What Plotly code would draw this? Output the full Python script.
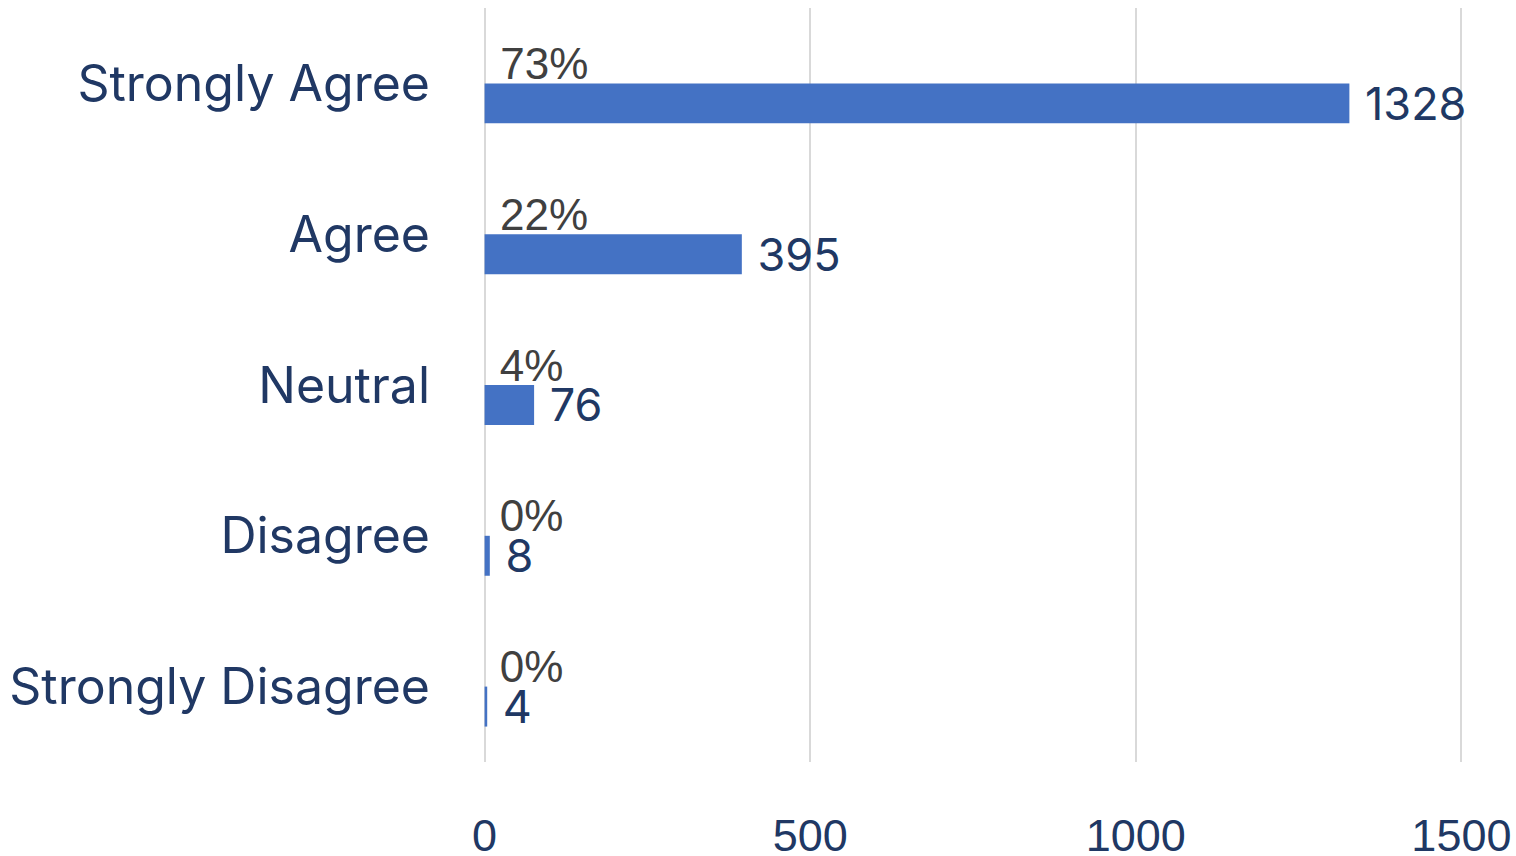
import plotly.graph_objects as go

# Survey responses, listed top to bottom
categories = ["Strongly Agree", "Agree", "Neutral", "Disagree", "Strongly Disagree"]
counts = [1328, 395, 76, 8, 4]
percents = [73, 22, 4, 0, 0]
x_ticks = [0, 500, 1000, 1500]

NAVY = "#203864"
GREY = "#404040"
BAR = "#4472C4"
PAD = "\u00a0"

fig = go.Figure()

# Share of responses: a hairline bar that only carries its label
fig.add_trace(go.Bar(
    y=categories,
    x=[p / 100 for p in percents],
    orientation="h",
    marker=dict(color="rgba(0,0,0,0)", line=dict(width=0)),
    text=[f"{PAD}{p}%" for p in percents],
    textposition="outside",
    constraintext="none",
    cliponaxis=False,
    textfont=dict(family="Liberation Sans, Arial, sans-serif", size=44, color=GREY),
    hoverinfo="skip",
))

# Response counts
fig.add_trace(go.Bar(
    y=categories,
    x=counts,
    orientation="h",
    marker=dict(color=BAR, line=dict(width=0)),
    text=[f"{PAD}{c}" for c in counts],
    textposition="outside",
    constraintext="none",
    cliponaxis=False,
    textfont=dict(family="Inter, Noto Sans, sans-serif", size=45, color=NAVY),
))

fig.update_layout(
    width=1516,
    height=856,
    margin=dict(l=482, r=52, t=8, b=94),
    paper_bgcolor="white",
    plot_bgcolor="white",
    barmode="group",
    bargap=0.47,
    bargroupgap=0,
    showlegend=False,
    xaxis=dict(
        range=[-4, 1504],
        tickvals=x_ticks,
        ticktext=[str(t) for t in x_ticks],
        showgrid=True,
        gridcolor="#D9D9D9",
        gridwidth=2,
        zeroline=False,
        showline=False,
        ticks="",
        automargin=False,
        ticklabelstandoff=43,
        tickfont=dict(family="Liberation Sans, Arial, sans-serif", size=45, color=NAVY),
    ),
    yaxis=dict(
        autorange="reversed",
        showgrid=False,
        zeroline=False,
        showline=False,
        ticks="",
        automargin=False,
        ticklabelstandoff=51,
        tickfont=dict(family="Inter, Noto Sans, sans-serif", size=50, color=NAVY),
    ),
)

fig.write_html("out.html")
